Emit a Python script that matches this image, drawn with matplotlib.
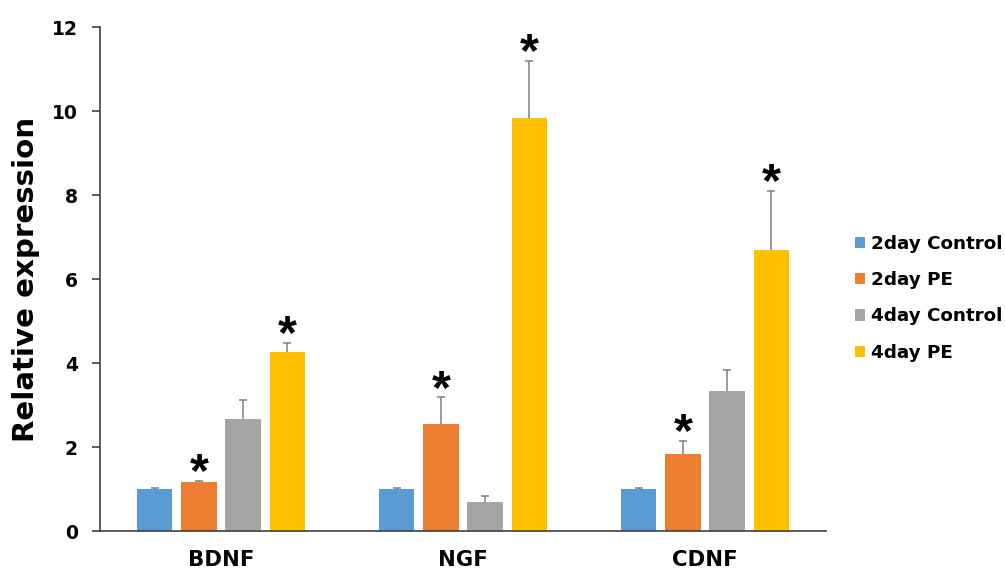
import matplotlib
matplotlib.use("Agg")
import matplotlib.pyplot as plt
import numpy as np

plt.rcParams['font.family'] = ['DejaVu Sans']

categories = ["BDNF", "NGF", "CDNF"]
series = ["2day Control", "2day PE", "4day Control", "4day PE"]
ctrl2 = [1.00, 1.00, 1.00]
pe2 = [1.16, 2.54, 1.83]
ctrl4 = [2.66, 0.68, 3.33]
pe4 = [4.27, 9.83, 6.69]
err_ctrl2 = [0.02, 0.02, 0.02]
err_pe2 = [0.03, 0.64, 0.32]
err_ctrl4 = [0.45, 0.15, 0.50]
err_pe4 = [0.21, 1.37, 1.40]
stars_pe2 = [True, True, True]
stars_pe4 = [True, True, True]
yticks = [0, 2, 4, 6, 8, 10, 12]

colors = ["#5B9BD5", "#ED7D31", "#A5A5A5", "#FFC000"]
values = [ctrl2, pe2, ctrl4, pe4]
errs = [err_ctrl2, err_pe2, err_ctrl4, err_pe4]
stars = [None, stars_pe2, None, stars_pe4]

fig = plt.figure(figsize=(10.05, 5.71), dpi=100)
ax = fig.add_axes([0.0995, 0.070, 0.7224, 0.8827])

x = np.arange(len(categories))
width = 0.145
step = 0.182
offsets = (np.arange(4) - 1.5) * step

for i in range(4):
    v = np.array(values[i])
    e = np.array(errs[i])
    xs = x + offsets[i]
    ax.bar(xs, v, width, color=colors[i], label=series[i], zorder=2)
    ax.errorbar(xs, v, yerr=[np.zeros_like(e), e], fmt='none',
                ecolor='#7F7F7F', elinewidth=1.1, capsize=0, zorder=1)
    ax.plot(xs, v + e, linestyle='none', marker='_', markersize=6,
            markeredgewidth=1.1, color='#7F7F7F', zorder=1)
    if stars[i] is not None:
        for j, s in enumerate(stars[i]):
            if s:
                top = v[j] + e[j]
                ax.annotate("*", xy=(xs[j], top), xytext=(0, -11),
                            textcoords='offset points', ha='center', va='bottom',
                            fontsize=35, fontweight='bold', color='black',
                            family='Liberation Sans')

ax.set_xlim(-0.5, 2.5)
ax.set_ylim(0, 12)
ax.set_yticks(yticks)
ax.set_yticklabels([str(t) for t in yticks], fontsize=13.5, fontweight='bold')
ax.set_xticks(x)
ax.set_xticklabels(categories, fontsize=15.3, fontweight='bold')
ax.tick_params(axis='x', length=0, pad=14)
ax.tick_params(axis='y', direction='out', length=6, width=1.2, color='#404040', pad=10)
ax.spines['top'].set_visible(False)
ax.spines['right'].set_visible(False)
ax.spines['left'].set_color('#404040')
ax.spines['bottom'].set_color('#404040')
ax.spines['left'].set_linewidth(1.2)
ax.spines['bottom'].set_linewidth(1.2)
ax.set_ylabel("Relative expression", fontsize=21.1, fontweight='bold')
ax.yaxis.set_label_coords(-0.0826, 0.5)

leg = ax.legend(loc='center left', bbox_to_anchor=(1.040, 0.462), frameon=False,
                prop={'size': 13.2, 'weight': 'bold'}, handlelength=0.57, handleheight=0.57,
                handletextpad=0.28, labelspacing=1.0, borderpad=0, borderaxespad=0)

fig.savefig("out.png", dpi=100)
